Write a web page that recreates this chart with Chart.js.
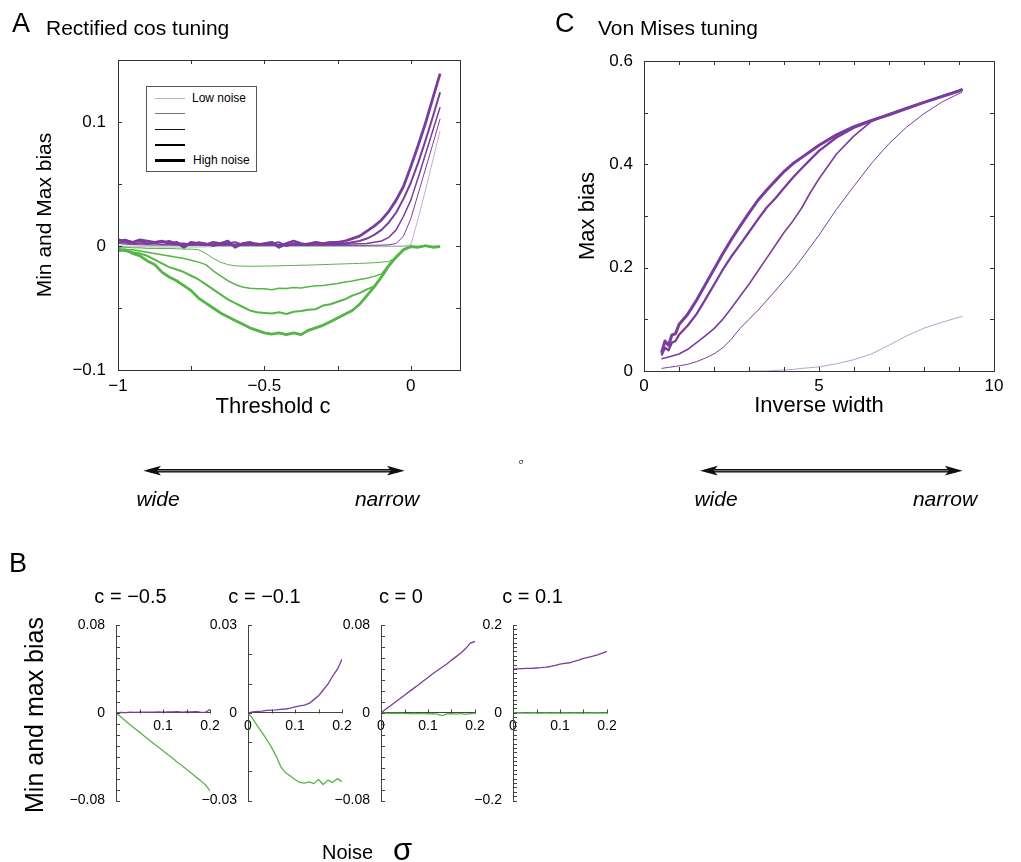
<!DOCTYPE html>
<html>
<head>
<meta charset="utf-8">
<title>Min and max bias</title>
<script src="https://cdn.jsdelivr.net/npm/chart.js@4.4.1/dist/chart.umd.min.js"></script>
<style>
  html, body { margin: 0; background: #fff; }
  #page { position: relative; width: 1021px; height: 862px; overflow: hidden;
          font-family: "Liberation Sans", Arial, sans-serif; color: #000; }
  #page canvas { position: absolute; }
  .t { position: absolute; white-space: nowrap; line-height: 1; }
  .c { transform: translateX(-50%); }
  .it { font-style: italic; font-size: 21px; }
  .leg { position: absolute; left: 155px; width: 30px; }
</style>
</head>
<body>
<div id="page">
  <canvas id="chartA" width="480" height="430" style="left:0;top:0"></canvas>
  <canvas id="chartC" width="481" height="430" style="left:540px;top:0"></canvas>

  <div class="t" style="left:12px;top:10px;font-size:27px">A</div>
  <div class="t" style="left:46px;top:16.5px;font-size:21px">Rectified cos tuning</div>
  <div class="t" style="left:555px;top:10px;font-size:27px">C</div>
  <div class="t" style="left:598px;top:16.5px;font-size:21px">Von Mises tuning</div>
  <!-- the x title of A sits left of the plot centre in the original, so it is placed by hand -->
  <div class="t c" style="left:273px;top:395px;font-size:22px">Threshold c</div>

  <!-- legend of panel A -->
  <div style="position:absolute;left:146px;top:86px;width:111px;height:86px;box-sizing:border-box;border:1px solid #555;background:#fff"></div>
  <div class="leg" style="top:98px;height:1px;background:#b5b5b5"></div>
  <div class="leg" style="top:113.3px;height:1px;background:#777"></div>
  <div class="leg" style="top:128.5px;height:1.5px;background:#111"></div>
  <div class="leg" style="top:143.5px;height:2px;background:#000"></div>
  <div class="leg" style="top:158.5px;height:3px;background:#000"></div>
  <div class="t" style="left:192px;top:92.4px;font-size:12px">Low noise</div>
  <div class="t" style="left:193px;top:154px;font-size:12px">High noise</div>

  <!-- width arrows -->
  <svg width="1021" height="862" style="position:absolute;left:0;top:0">
    <g stroke-linecap="butt">
      <line x1="150" y1="470.7" x2="398" y2="470.7" stroke="#111" stroke-width="3.5"/>
      <line x1="152" y1="470.7" x2="396" y2="470.7" stroke="#888" stroke-width="1"/>
      <line x1="707" y1="470.7" x2="956" y2="470.7" stroke="#111" stroke-width="3.5"/>
      <line x1="709" y1="470.7" x2="954" y2="470.7" stroke="#888" stroke-width="1"/>
    </g>
    <g fill="#111">
      <polygon points="143.3,470.7 161,465.8 157,470.7 161,475.6"/>
      <polygon points="404.7,470.7 387,465.8 391,470.7 387,475.6"/>
      <polygon points="700,470.7 717.7,465.8 713.7,470.7 717.7,475.6"/>
      <polygon points="962.6,470.7 944.9,465.8 948.9,470.7 944.9,475.6"/>
    </g>
  </svg>
  <div class="t c it" style="left:158px;top:488px">wide</div>
  <div class="t c it" style="left:387px;top:488px">narrow</div>
  <div class="t c it" style="left:716px;top:488px">wide</div>
  <div class="t c it" style="left:945px;top:488px">narrow</div>
  <div class="t" style="left:519px;top:458px;font-size:7px">σ</div>

  <div class="t" style="left:9px;top:550px;font-size:27px">B</div>
  <div class="t" style="left:34px;top:715px;font-size:25px;transform:translate(-50%,-50%) rotate(-90deg)">Min and max bias</div>
  <div class="t" style="left:322px;top:842px;font-size:20px">Noise</div>
  <div class="t" style="left:393px;top:834px;font-size:31px">σ</div>
</div>

<script>
// ---- panel A: rectified cos tuning, bias against threshold c ----
const xsA = [-1, -0.975, -0.95, -0.925, -0.9, -0.875, -0.85, -0.825, -0.8, -0.775,
             -0.75, -0.725, -0.7, -0.675, -0.65, -0.625, -0.6, -0.575, -0.55, -0.525,
             -0.5, -0.475, -0.45, -0.425, -0.4, -0.375, -0.35, -0.325, -0.3, -0.275,
             -0.25, -0.225, -0.2, -0.175, -0.15, -0.125, -0.1, -0.075,
             -0.05, -0.025, 0, 0.025, 0.05, 0.075, 0.1];

// max bias, low noise -> high noise
const maxA1 = [0,0,0,0,0,0,0,0,0,0, 0,0,0,0,0,0,0,0,0,0, 0,0,0,0,0,0,0,0,0,0,
               0,0,0,0,0,0,0,0, 0,0,0.001,0.022,0.045,0.069,0.093];
const maxA2 = [0.002,0.0015,0.0012,0.001,0.0009,0.0008,0.0008,0.0007,0.0007,0.0006,
               0.0006,0.0005,0.0005,0.0005,0.0005,0.0005,0.0005,0.0005,0.0005,0.0005,
               0.0005,0.0005,0.0005,0.0005,0.0005,0.0005,0.0005,0.0005,0.0005,0.0005,
               0.0005,0.0005,0.0005,0.0005,0.0005,0.0006,0.0007,0.001,
               0.002,0.008,0.022,0.042,0.062,0.082,0.1025];
const maxA3 = [0.003,0.0025,0.002,0.0025,0.0015,0.002,0.0012,0.0018,0.001,0.0015,
               0.001,0.0015,0.001,0.0012,0.001,0.0015,0.001,0.0012,0.001,0.0014,
               0.001,0.0012,0.001,0.0015,0.001,0.0012,0.001,0.0013,0.001,0.0012,
               0.0012,0.0014,0.0016,0.0018,0.002,0.003,0.004,0.007,
               0.013,0.024,0.037,0.055,0.074,0.093,0.112];
const maxA4 = [0.004,0.005,0.003,0.004,0.002,0.003,0.003,0.004,0.002,0.002,
               0.001,0.003,0.002,0,0.002,0.002,0.003,0.001,0.002,0.002,
               0.001,0.002,0.003,0,0.002,0.001,0.002,0.003,0.001,0.002,
               0.002,0.002,0.003,0.004,0.006,0.009,0.013,0.019,
               0.027,0.038,0.051,0.067,0.085,0.104,0.124];
const maxA5 = [0.005,0.004,0.003,0.005,0.004,0.003,0.004,0.002,0.003,-0.001,
               0.003,0.002,0.001,0.003,0.002,0.004,-0.001,0.002,0.003,0.001,
               0.002,0.003,-0.001,0.002,0.004,0.002,0.001,0.003,0.002,0.003,
               0.003,0.004,0.006,0.008,0.012,0.016,0.021,0.028,
               0.037,0.048,0.064,0.081,0.099,0.119,0.139];

// min bias, low noise -> high noise
const minA1 = [-0.001,-0.001,-0.001,-0.001,-0.001,-0.001,-0.001,-0.001,-0.001,-0.001,
               -0.001,-0.001,-0.0008,-0.0006,-0.0005,-0.0005,-0.0005,-0.0005,-0.0005,-0.0005,
               -0.0005,-0.0005,-0.0005,-0.0005,-0.0005,-0.0005,-0.0005,-0.0005,-0.0005,-0.0005,
               -0.0005,-0.0005,-0.0005,-0.0005,-0.0005,-0.0005,-0.0005,-0.0005,
               -0.0004,-0.0003,-0.0003,-0.0003,-0.0003,-0.0003,-0.0003];
const minA2 = [-0.001,-0.001,-0.0015,-0.0015,-0.002,-0.002,-0.002,-0.002,-0.0022,-0.0025,
               -0.0025,-0.003,-0.006,-0.010,-0.013,-0.015,-0.016,-0.0162,-0.0163,-0.0163,
               -0.0162,-0.0161,-0.016,-0.0158,-0.0157,-0.0155,-0.0154,-0.0152,-0.015,-0.0148,
               -0.0146,-0.0144,-0.0142,-0.014,-0.0138,-0.0135,-0.013,-0.0125,
               -0.009,-0.003,-0.0005,-0.001,0.0002,-0.001,-0.0005];
const minA3 = [-0.002,-0.003,-0.003,-0.004,-0.005,-0.006,-0.007,-0.008,-0.009,-0.010,
               -0.0115,-0.013,-0.015,-0.020,-0.024,-0.028,-0.031,-0.033,-0.034,-0.0345,
               -0.0345,-0.0352,-0.034,-0.0342,-0.0335,-0.0338,-0.0328,-0.032,-0.0318,-0.031,
               -0.0303,-0.029,-0.0283,-0.027,-0.026,-0.0245,-0.0225,-0.015,
               -0.0085,-0.003,-0.0005,-0.0008,0,-0.001,-0.0005];
const minA4 = [-0.003,-0.004,-0.005,-0.006,-0.008,-0.011,-0.014,-0.017,-0.019,-0.021,
               -0.024,-0.027,-0.031,-0.035,-0.039,-0.043,-0.046,-0.049,-0.052,-0.0535,
               -0.054,-0.0545,-0.0535,-0.0548,-0.053,-0.0525,-0.0515,-0.051,-0.048,-0.047,
               -0.045,-0.043,-0.040,-0.038,-0.035,-0.0325,-0.0245,-0.0155,
               -0.0085,-0.0028,-0.0004,-0.001,0.0003,-0.0008,-0.0004];
const minA5 = [-0.004,-0.003,-0.006,-0.008,-0.012,-0.015,-0.021,-0.025,-0.028,-0.032,
               -0.036,-0.042,-0.046,-0.050,-0.054,-0.057,-0.060,-0.063,-0.066,-0.068,
               -0.070,-0.071,-0.070,-0.0715,-0.070,-0.0715,-0.068,-0.066,-0.064,-0.061,
               -0.058,-0.055,-0.052,-0.047,-0.040,-0.033,-0.025,-0.016,
               -0.009,-0.003,-0.0005,-0.001,0.0002,-0.001,-0.0005];

const xLabelsA = [-1, -0.5, 0];
const yLabelsA = [-0.1, 0, 0.1];

// ---- panel C: von Mises tuning, max bias against inverse width ----
const xsC = [0.5, 0.6, 0.7, 0.8, 0.9, 1, 1.25, 1.5, 1.75, 2, 2.25, 2.5, 2.75, 3, 3.25,
             3.5, 3.75, 4, 4.25, 4.5, 4.75, 5, 5.5, 6, 6.5, 7, 7.5, 8, 8.5, 9, 9.1];
const maxC1 = [null,null,null,null,null,null,null,null,null,null,null,null,null,
               0,0,0,0.001,0.002,0.003,0.005,0.0065,0.008,0.014,0.022,0.033,0.05,0.068,0.083,0.094,0.104,0.106];
const maxC2 = [0.005,0.006,0.007,0.008,0.009,0.010,0.013,0.018,0.025,0.033,0.045,0.062,0.083,0.1,0.117,
               0.136,0.155,0.175,0.195,0.217,0.24,0.263,0.313,0.358,0.402,0.44,0.472,0.498,0.52,0.537,0.54];
const maxC3 = [0.024,0.025,0.027,0.029,0.031,0.033,0.042,0.055,0.068,0.082,0.1,0.122,0.145,0.168,0.193,
               0.218,0.243,0.268,0.29,0.315,0.345,0.372,0.42,0.455,0.483,0.497,0.508,0.52,0.532,0.543,0.545];
const maxC4 = [0.03,0.045,0.04,0.055,0.058,0.07,0.088,0.11,0.138,0.167,0.196,0.222,0.245,0.269,0.293,
               0.316,0.334,0.354,0.374,0.392,0.409,0.426,0.452,0.471,0.484,0.497,0.509,0.52,0.531,0.542,0.545];
const maxC5 = [0.035,0.058,0.05,0.07,0.072,0.09,0.11,0.137,0.167,0.197,0.227,0.255,0.281,0.306,0.33,
               0.35,0.368,0.386,0.401,0.413,0.425,0.437,0.457,0.473,0.485,0.496,0.508,0.52,0.531,0.542,0.545];
const xLabelsC = [0, 5, 10];
const yLabelsC = [0, 0.2, 0.4, 0.6];

// ---- panel B: bias against noise sigma at four thresholds ----
const xsB = [0, 0.01, 0.02, 0.03, 0.04, 0.05, 0.06, 0.07, 0.08, 0.09, 0.1,
             0.11, 0.12, 0.13, 0.14, 0.15, 0.16, 0.17, 0.18, 0.19, 0.2];
const maxB1 = [0,0.0003,0.0002,0.0005,0.0004,0.0006,0.0005,0.0007,0.0006,0.0008,0.0007,
               0.0009,0.0008,0.001,0.0007,0.0009,0.0008,0.001,0.0006,0.0004,0.003];
const minB1 = [0,-0.0035,-0.0072,-0.0108,-0.0142,-0.0176,-0.0212,-0.0245,-0.028,-0.0312,-0.0345,
               -0.038,-0.0412,-0.0448,-0.048,-0.0515,-0.0548,-0.0585,-0.0618,-0.0655,-0.0712];
const maxB2 = [0,0.0003,0.0005,0.0006,0.0008,0.0009,0.001,0.0012,0.0013,0.0016,0.002,
               0.0024,0.0026,0.0032,0.0045,0.0058,0.0078,0.0098,0.0125,0.0148,0.0183];
const minB2 = [0,-0.002,-0.0045,-0.0068,-0.0092,-0.0118,-0.0148,-0.0185,-0.0205,-0.0216,-0.0228,
               -0.0238,-0.024,-0.0236,-0.0242,-0.0228,-0.0245,-0.023,-0.0238,-0.0225,-0.0235];
const maxB3 = [0,0.0032,0.0064,0.0097,0.0128,0.016,0.0193,0.0225,0.0255,0.029,0.0322,
               0.0355,0.0385,0.0415,0.0445,0.048,0.0512,0.0545,0.0585,0.0635,0.065];
const minB3 = [0,-0.0003,-0.0005,-0.0004,-0.0006,-0.0005,-0.0007,-0.0006,-0.0008,-0.0006,-0.0009,
               -0.0007,-0.0012,-0.0025,-0.001,-0.0008,-0.0012,-0.0006,-0.0015,-0.0008,-0.0006];
const maxB4 = [0.1,0.1,0.1005,0.101,0.1012,0.102,0.1028,0.104,0.1055,0.108,0.111,
               0.1125,0.114,0.117,0.12,0.124,0.1265,0.129,0.132,0.136,0.14];
const minB4 = [0,-0.0005,-0.0003,-0.0006,-0.0004,-0.0005,-0.0006,-0.0005,-0.0007,-0.0004,-0.0006,
               -0.0005,-0.0008,-0.0005,-0.0006,-0.0004,-0.0006,-0.0005,-0.0004,-0.0006,-0.0005];
const titlesB = ['c = \u22120.5', 'c = \u22120.1', 'c = 0', 'c = 0.1'];
const limitsB = [0.08, 0.03, 0.08, 0.2];
const xLabelsB = [[0.1, 0.2], [0, 0.1, 0.2], [0, 0.1, 0.2], [0, 0.1, 0.2]];

// ---------------------------------------------------------------
const purple = '#7a3d9c';
const green = '#55b547';
Chart.defaults.font.family = '"Liberation Sans", Arial, sans-serif';
Chart.defaults.color = '#000';

const fmt = v => (v < 0 ? '\u2212' : '') + Math.abs(v);
const hasLabel = (list, v) => list.some(l => Math.abs(l - v) < 1e-9);
const steps = (lo, hi, d) => {
    const out = [];
    const n = Math.round((hi - lo) / d);
    for (let i = 0; i <= n; i++) out.push(+(lo + i * d).toFixed(6));
    return out;
};
const pts = (xs, ys) => xs.map((x, i) => ({ x: x, y: ys[i] }));
const line = (xs, ys, color, width) => ({
    data: pts(xs, ys), borderColor: color, borderWidth: width,
    pointRadius: 0, fill: false, tension: 0, borderJoinStyle: 'round'
});

// box around the plot with ticks pointing inwards on all four sides
const frameTicks = {
    id: 'frameTicks',
    afterDatasetsDraw(chart, args, o) {
        const { ctx, chartArea: a, scales: { x, y } } = chart;
        ctx.save();
        ctx.strokeStyle = o.color;
        ctx.lineWidth = 1;
        ctx.beginPath();
        x.ticks.forEach(t => {
            const p = Math.round(x.getPixelForValue(t.value)) + 0.5;
            ctx.moveTo(p, a.bottom); ctx.lineTo(p, a.bottom - o.len);
            ctx.moveTo(p, a.top); ctx.lineTo(p, a.top + o.len);
        });
        y.ticks.forEach(t => {
            const p = Math.round(y.getPixelForValue(t.value)) + 0.5;
            ctx.moveTo(a.left, p); ctx.lineTo(a.left + o.len, p);
            ctx.moveTo(a.right, p); ctx.lineTo(a.right - o.len, p);
        });
        ctx.stroke();
        ctx.strokeRect(Math.round(a.left) + 0.5, Math.round(a.top) + 0.5,
                       Math.round(a.right - a.left), Math.round(a.bottom - a.top));
        ctx.restore();
    }
};

// panel B: y ticks point right from the axis, x ticks point up from the zero line
const axisTicks = {
    id: 'axisTicks',
    afterDatasetsDraw(chart, args, o) {
        const { ctx, chartArea: a, scales: { x, y } } = chart;
        const y0 = Math.round(y.getPixelForValue(0)) + 0.5;
        ctx.save();
        ctx.strokeStyle = o.color;
        ctx.lineWidth = 1;
        ctx.beginPath();
        y.ticks.forEach(t => {
            const p = Math.round(y.getPixelForValue(t.value)) + 0.5;
            ctx.moveTo(a.left, p); ctx.lineTo(a.left + o.len, p);
        });
        x.ticks.forEach(t => {
            const p = Math.round(x.getPixelForValue(t.value)) + 0.5;
            ctx.moveTo(p, y0); ctx.lineTo(p, y0 - o.len);
        });
        ctx.stroke();
        ctx.restore();
    }
};

const common = {
    responsive: false,
    animation: false,
    devicePixelRatio: 1,
    events: []
};

// ---- A ----
new Chart(document.getElementById('chartA'), {
    type: 'line',
    data: {
        datasets: [
            line(xsA, maxA1, 'rgba(122,61,156,0.55)', 0.8),
            line(xsA, maxA2, purple, 1),
            line(xsA, maxA3, purple, 1.5),
            line(xsA, maxA4, purple, 2),
            line(xsA, maxA5, purple, 2.8),
            line(xsA, minA1, 'rgba(85,181,71,0.6)', 0.8),
            line(xsA, minA2, green, 1),
            line(xsA, minA3, green, 1.5),
            line(xsA, minA4, green, 2),
            line(xsA, minA5, green, 2.8)
        ]
    },
    options: {
        ...common,
        layout: { padding: { left: 0, top: 60, right: 20, bottom: 0 } },
        plugins: {
            legend: { display: false },
            tooltip: { enabled: false },
            frameTicks: { color: '#333', len: 4 }
        },
        scales: {
            x: {
                type: 'linear', min: -1, max: 0.168,
                grid: { display: false, drawTicks: false },
                border: { display: false },
                afterBuildTicks: s => { s.ticks = steps(-1, 0, 0.25).map(v => ({ value: v })); },
                ticks: { autoSkip: false, maxRotation: 0, padding: 6, font: { size: 17 },
                         callback: v => hasLabel(xLabelsA, v) ? fmt(v) : '' },
                afterFit: s => { s.height = 60; }
            },
            y: {
                type: 'linear', min: -0.1, max: 0.15,
                grid: { display: false, drawTicks: false },
                border: { display: false },
                afterBuildTicks: s => { s.ticks = steps(-0.1, 0.15, 0.05).map(v => ({ value: v })); },
                ticks: { autoSkip: false, padding: 12, font: { size: 17 },
                         callback: v => hasLabel(yLabelsA, v) ? fmt(v) : '' },
                title: { display: true, text: 'Min and Max bias', font: { size: 21 },
                         padding: { top: 33, bottom: 0 } },
                afterFit: s => { s.width = 118; }
            }
        }
    },
    plugins: [frameTicks]
});

// ---- C ----
new Chart(document.getElementById('chartC'), {
    type: 'line',
    data: {
        datasets: [
            line(xsC, maxC1, 'rgba(122,61,156,0.5)', 1),
            line(xsC, maxC2, purple, 1),
            line(xsC, maxC3, purple, 1.6),
            line(xsC, maxC4, purple, 2.3),
            line(xsC, maxC5, purple, 3)
        ]
    },
    options: {
        ...common,
        layout: { padding: { left: 0, top: 61, right: 27, bottom: 0 } },
        plugins: {
            legend: { display: false },
            tooltip: { enabled: false },
            frameTicks: { color: '#333', len: 4 }
        },
        scales: {
            x: {
                type: 'linear', min: 0, max: 10,
                grid: { display: false, drawTicks: false },
                border: { display: false },
                afterBuildTicks: s => { s.ticks = steps(0, 10, 1).map(v => ({ value: v })); },
                ticks: { autoSkip: false, maxRotation: 0, padding: 5, font: { size: 17 },
                         callback: v => hasLabel(xLabelsC, v) ? fmt(v) : '' },
                title: { display: true, text: 'Inverse width', font: { size: 22 },
                         padding: { top: 0, bottom: 11 } },
                afterFit: s => { s.height = 59; }
            },
            y: {
                type: 'linear', min: 0, max: 0.6,
                grid: { display: false, drawTicks: false },
                border: { display: false },
                afterBuildTicks: s => { s.ticks = steps(0, 0.6, 0.1).map(v => ({ value: v })); },
                ticks: { autoSkip: false, padding: 11, font: { size: 17 },
                         callback: v => hasLabel(yLabelsC, v) ? fmt(v) : '' },
                title: { display: true, text: 'Max bias', font: { size: 22 },
                         padding: { top: 35, bottom: 0 } },
                afterFit: s => { s.width = 104; }
            }
        }
    },
    plugins: [frameTicks]
});

// ---- B ----
const maxB = [maxB1, maxB2, maxB3, maxB4];
const minB = [minB1, minB2, minB3, minB4];
const axisLeftB = [116, 248, 381, 513];   // page x of each y axis
const titleMidB = [171, 307, 447, 578];   // page x of each title centre
const plotW = 94, cvW = 240, cvH = 250, cvTop = 570, plotBottom = 803.5;
const page = document.getElementById('page');

titlesB.forEach((title, i) => {
    const cv = document.createElement('canvas');
    cv.width = cvW;
    cv.height = cvH;
    const left = titleMidB[i] - cvW / 2;
    cv.style.left = left + 'px';
    cv.style.top = cvTop + 'px';
    page.appendChild(cv);

    const lim = limitsB[i];
    new Chart(cv, {
        type: 'line',
        data: {
            datasets: [
                line(xsB, maxB[i], purple, 1.3),
                line(xsB, minB[i], green, 1.3)
            ]
        },
        options: {
            ...common,
            layout: { padding: { left: 0, top: 0, right: left + cvW - (axisLeftB[i] + plotW),
                                 bottom: cvTop + cvH - plotBottom } },
            plugins: {
                legend: { display: false },
                tooltip: { enabled: false },
                title: { display: true, text: title, color: '#000',
                         font: { size: 20, weight: 'normal' }, padding: { top: 15.5, bottom: 15.5 } },
                axisTicks: { color: '#444', len: 4 }
            },
            scales: {
                x: {
                    type: 'linear', min: 0, max: 0.2, position: { y: 0 },
                    grid: { display: false, drawTicks: false },
                    border: { display: true, color: '#444', width: 1 },
                    afterBuildTicks: s => { s.ticks = steps(0, 0.2, 0.05).map(v => ({ value: v })); },
                    ticks: { autoSkip: false, maxRotation: 0, padding: 5, font: { size: 14 },
                             callback: v => hasLabel(xLabelsB[i], v) ? fmt(v) : '' }
                },
                y: {
                    type: 'linear', min: -lim, max: lim,
                    grid: { display: false, drawTicks: false },
                    border: { display: true, color: '#444', width: 1 },
                    afterBuildTicks: s => { s.ticks = steps(-lim, lim, 0.01).map(v => ({ value: v })); },
                    ticks: { autoSkip: false, padding: 11, font: { size: 14 },
                             callback: v => hasLabel([-lim, 0, lim], v) ? fmt(v) : '' },
                    afterFit: s => { s.width = axisLeftB[i] - left; }
                }
            }
        },
        plugins: [axisTicks]
    });
});
</script>
</body>
</html>
